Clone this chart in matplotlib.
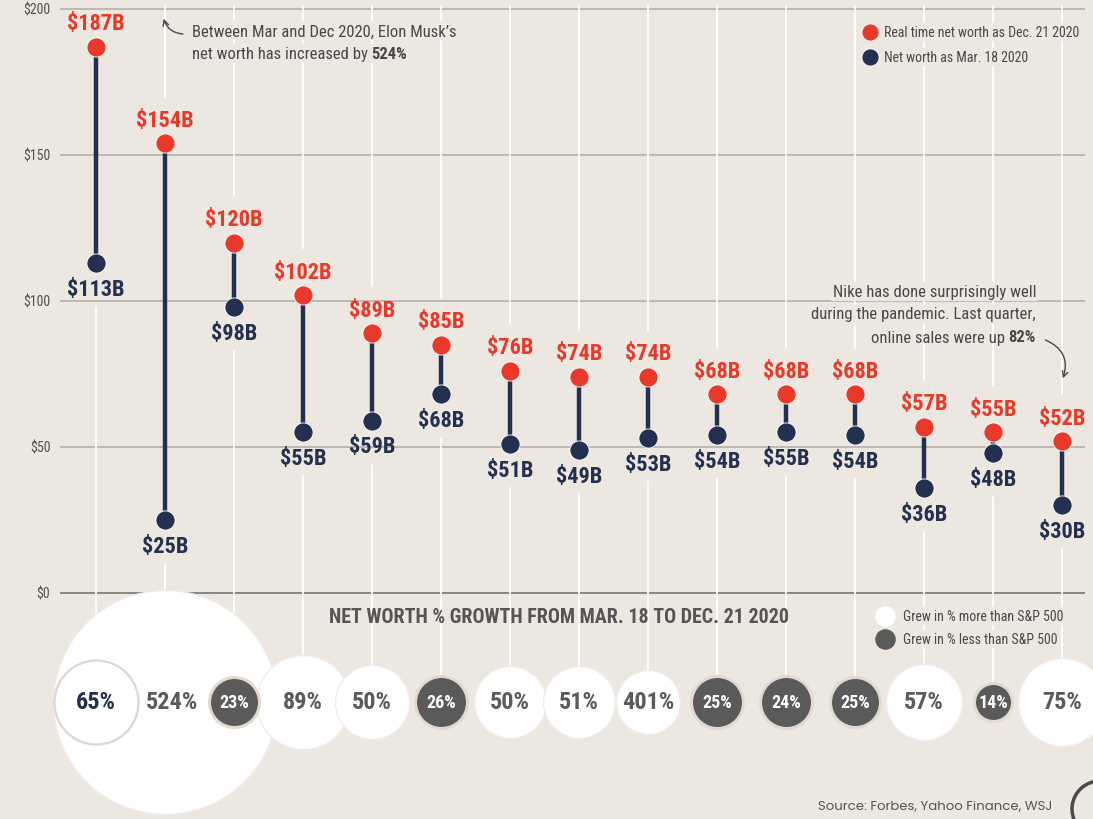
import matplotlib.pyplot as plt
from matplotlib.patches import Arc

# billionaire net worth, $B
dec_worth = [187, 154, 120, 102, 89, 85, 76, 74, 74, 68, 68, 68, 57, 55, 52]
mar_worth = [113, 25, 98, 55, 59, 68, 51, 49, 53, 54, 55, 54, 36, 48, 30]
growth = [65, 524, 23, 89, 50, 26, 50, 51, 401, 25, 24, 25, 57, 14, 75]
beat_sp500 = [True, True, False, True, True, False, True, True, True,
              False, False, False, True, False, True]
y_ticks = [0, 50, 100, 150, 200]
# bubble radii in pixels (as drawn in the graphic)
bubble_px = [42, 112, 25, 47, 37, 26, 36, 36, 32, 26, 26, 25, 38, 19, 44]

BG = '#ede7e1'
RED = '#e8392a'
NAVY = '#24304f'
GREY = '#5a5a5a'
TXT = '#484848'
COND = ['Roboto Condensed', 'Oswald', 'DejaVu Sans']
plt.rcParams['font.family'] = COND

fig = plt.figure(figsize=(10.93, 8.2), dpi=100, facecolor=BG)
ax = fig.add_axes([0, 0, 1, 1])
ax.set_facecolor(BG)
# 69 px per column (first at x=96), 2.92 px per $1B ($0 at y=594)
ax.set_xlim(-96 / 69, (1093 - 96) / 69)
ax.set_ylim(-(820 - 594) / 2.92, 594 / 2.92)
ax.axis('off')

n = len(dec_worth)
xs = list(range(n))
bub_y = -37.3

# horizontal grid
x0, x1 = (60 - 96) / 69, (1085 - 96) / 69
for t in y_ticks:
    ax.plot([x0, x1], [t, t], color='#8a8683' if t == 0 else '#bdb8b3',
            lw=1.4, zorder=1, solid_capstyle='butt')
    ax.text(x0 - 0.14, t, '$%d' % t, ha='right', va='center', fontsize=10,
            color='#505050', zorder=3)

# white vertical guides
for i in xs:
    if dec_worth[i] + 16 < 201:
        ax.plot([i, i], [201, dec_worth[i] + 16], color='white', lw=1.3, zorder=2)
    ax.plot([i, i], [mar_worth[i] - 15, bub_y], color='white', lw=1.3, zorder=2)

# dumbbells
ax.vlines(xs, mar_worth, dec_worth, color=NAVY, lw=3.2, zorder=4)
ax.scatter(xs, mar_worth, s=190, color=NAVY, edgecolor='white', lw=0.6, zorder=5)
ax.scatter(xs, dec_worth, s=190, color=RED, edgecolor='white', lw=0.6, zorder=5)
for i in xs:
    ax.annotate('$%dB' % dec_worth[i], (i, dec_worth[i]), xytext=(0, 17),
                textcoords='offset points', ha='center', va='center',
                fontsize=16, fontweight='bold', color=RED, zorder=6)
    ax.annotate('$%dB' % mar_worth[i], (i, mar_worth[i]), xytext=(0, -18.5),
                textcoords='offset points', ha='center', va='center',
                fontsize=16, fontweight='bold', color=NAVY, zorder=6)

# growth bubbles, biggest drawn first
order = sorted(xs, key=lambda k: -bubble_px[k])
for z, i in enumerate(order):
    d = 2 * bubble_px[i] * 0.72
    if beat_sp500[i]:
        edge, lw = ('#e0d6cc', 1.6) if i == 0 else ('#f1ece7', 1.0)
        ax.scatter([i], [bub_y], s=d ** 2, color='white', edgecolor=edge,
                   lw=lw, zorder=10 + z, clip_on=False)
    else:
        ax.scatter([i], [bub_y], s=d ** 2, color=GREY, edgecolor='#e2d9cf',
                   lw=2.2, zorder=10 + z, clip_on=False)
    col = 'white' if not beat_sp500[i] else (NAVY if i == 0 else '#5b5b5b')
    fs = 13 if not beat_sp500[i] else 17.5
    ax.text(i + (0.1 if i == 1 else 0), bub_y, '%d%%' % growth[i], ha='center',
            va='center', fontsize=fs, fontweight='bold', color=col, zorder=40)

ax.text(6.71, -8.2, 'NET WORTH % GROWTH FROM MAR. 18 TO DEC. 21 2020',
        ha='center', va='center', fontsize=14.4, fontweight='bold',
        color='#555555', zorder=6)

# legends
box = dict(facecolor=BG, edgecolor='none', pad=1.5)
ax.scatter([11.22], [192.1], s=150, color=RED, edgecolor='white', lw=0.5, zorder=6)
ax.scatter([11.22], [183.6], s=150, color=NAVY, edgecolor='white', lw=0.5, zorder=6)
ax.text(11.42, 192.1, 'Real time net worth as Dec. 21 2020', va='center',
        fontsize=10, color=TXT, bbox=box, zorder=6)
ax.text(11.42, 183.6, 'Net worth as Mar. 18 2020', va='center',
        fontsize=10, color=TXT, bbox=box, zorder=6)
ax.scatter([11.43], [-7.9], s=190, color='white', zorder=6)
ax.scatter([11.43], [-15.8], s=190, color=GREY, zorder=6)
ax.text(11.70, -7.9, 'Grew in % more than S&P 500', va='center',
        fontsize=10, color=TXT, bbox=box, zorder=6)
ax.text(11.70, -15.8, 'Grew in % less than S&P 500', va='center',
        fontsize=10, color=TXT, bbox=box, zorder=6)

# annotations
l1 = ax.text(1.39, 192.5, "Between Mar and Dec 2020, Elon Musk\u2019s", va='center',
             fontsize=12, color=TXT, bbox=box, zorder=6)
l2 = ax.text(1.39, 184.6, 'net worth has increased by ', va='center',
             fontsize=12, color=TXT, bbox=box, zorder=6)
ax.annotate('524%', xy=(1, 0), xycoords=l2, ha='left', va='bottom',
            fontsize=12, fontweight='bold', color=TXT, zorder=6)
ax.annotate('', xy=(0.97, 197.6), xytext=(1.3, 191.4),
            arrowprops=dict(arrowstyle='->', color=TXT, lw=1,
                            connectionstyle='arc3,rad=-0.4'), zorder=6)

nx = (1036 - 96) / 69
ax.text(nx, (594 - 292) / 2.92, 'Nike has done surprisingly well', ha='right',
        va='center', fontsize=12, color=TXT, bbox=box, zorder=6)
ax.text(nx, (594 - 315) / 2.92, 'during the pandemic. Last quarter,', ha='right',
        va='center', fontsize=12, color=TXT, bbox=box, zorder=6)
b82 = ax.text(nx, (594 - 338) / 2.92, '82%', ha='right', va='center',
              fontsize=12, fontweight='bold', color=TXT, bbox=box, zorder=6)
ax.annotate('online sales were up ', xy=(0, 0), xycoords=b82, ha='right',
            va='bottom', fontsize=12, color=TXT, zorder=6)
ax.annotate('', xy=(14, 72.6), xytext=(13.72, 87),
            arrowprops=dict(arrowstyle='->', color=TXT, lw=1,
                            connectionstyle='arc3,rad=-0.5'), zorder=6)

fig.text(1052 / 1093, 1 - 807 / 820, 'Source: Forbes, Yahoo Finance, WSJ',
         ha='right', va='center', fontsize=9.5, color='#555555',
         family=['Poppins', 'Lato', 'DejaVu Sans'])

# corner logo (partial ring)
fig.add_artist(Arc((1100 / 1093, 1 - 810 / 820), 56 / 1093, 56 / 820,
                   theta1=90, theta2=260, color='#4a4a4a', lw=2.5,
                   transform=fig.transFigure))

fig.savefig('out.png', dpi=100, facecolor=BG)
